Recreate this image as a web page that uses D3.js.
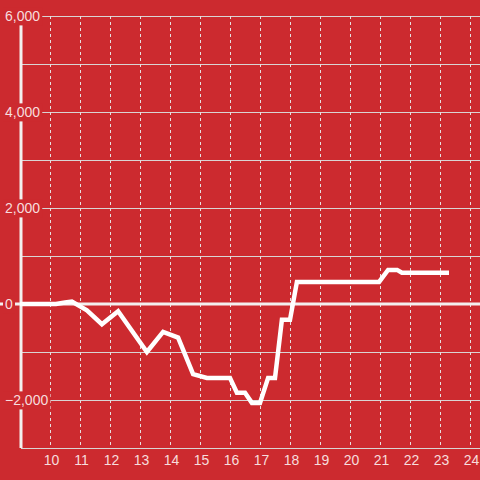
<!DOCTYPE html>
<html><head><meta charset="utf-8">
<script src="https://cdn.jsdelivr.net/npm/d3@7"></script>
<style>
html,body{margin:0;padding:0;background:#CC2A2F;}
svg{display:block;}
text{font-family:"Liberation Sans",Arial,sans-serif;}
</style></head>
<body>
<script>
const hours = [9, 10.2, 10.5, 10.73, 11.23, 11.73, 12.27, 13.23, 13.77, 14.27, 14.77, 15.23, 16.0, 16.23, 16.5, 16.73, 17.0, 17.27, 17.5, 17.73, 18.0, 18.23, 20.97, 21.27, 21.57, 21.73, 23.3];
const values = [0, 0, 30, 50, -130, -420, -150, -1000, -580, -700, -1460, -1540, -1540, -1850, -1850, -2060, -2060, -1540, -1540, -330, -330, 460, 460, 710, 710, 650, 650];
const xTicks = [10, 11, 12, 13, 14, 15, 16, 17, 18, 19, 20, 21, 22, 23, 24];
const yGrid = [-3000, -2000, -1000, 0, 1000, 2000, 3000, 4000, 5000, 6000];
const yLabels = [-2000, 0, 2000, 4000, 6000];

const W = 480, H = 480;
const bg = "#CC2A2F";
const svg = d3.select("body").append("svg").attr("width", W).attr("height", H);
svg.append("rect").attr("width", W).attr("height", H).attr("fill", bg);

const x = d3.scaleLinear().domain([9, 24.3333]).range([20, 480]);
const y = d3.scaleLinear().domain([-3000, 6000]).range([448, 16]);

// horizontal gridlines
svg.append("g").selectAll("line").data(yGrid.filter(v => v !== 0)).join("line")
  .attr("x1", 21).attr("x2", W)
  .attr("y1", d => Math.round(y(d)) + 0.5).attr("y2", d => Math.round(y(d)) + 0.5)
  .attr("stroke", "#d9d4d4").attr("stroke-width", 1.2);

// vertical dashed gridlines
svg.append("g").selectAll("line").data(xTicks).join("line")
  .attr("x1", d => Math.round(x(d)) + 0.5).attr("x2", d => Math.round(x(d)) + 0.5)
  .attr("y1", y(6000)).attr("y2", y(-3000))
  .attr("stroke", "#e6e0e0").attr("stroke-width", 1).attr("stroke-dasharray", "3,3");

// y axis line
svg.append("line").attr("x1", 21).attr("x2", 21).attr("y1", y(6000)).attr("y2", y(-3000))
  .attr("stroke", "#f3efef").attr("stroke-width", 3);

// zero line
svg.append("line").attr("x1", 0).attr("x2", W).attr("y1", y(0)).attr("y2", y(0))
  .attr("stroke", "#f3efef").attr("stroke-width", 3);

// y labels with backgrounds
const yAxis = d3.axisLeft(y).tickValues(yLabels).tickFormat(d3.format(",")).tickSize(0);
const gy = svg.append("g").attr("transform", "translate(5,0)").call(yAxis);
gy.select(".domain").remove();
gy.selectAll("text").attr("text-anchor", "start").attr("x", 0).attr("dy", "0.35em")
  .attr("fill", "#f7dddd").attr("font-size", 14);
gy.selectAll(".tick").each(function() {
  const t = d3.select(this).select("text");
  const b = t.node().getBBox();
  d3.select(this).insert("rect", "text")
    .attr("x", b.x - 2).attr("y", b.y - 1).attr("width", b.width + 4).attr("height", b.height + 2)
    .attr("fill", bg);
});

// x labels
const xAxis = d3.axisBottom(x).tickValues(xTicks).tickFormat(d3.format("d")).tickSize(0);
const gx = svg.append("g").attr("transform", "translate(1,455)").call(xAxis);
gx.select(".domain").remove();
gx.selectAll("text").attr("fill", "#f7dddd").attr("font-size", 14).attr("dy", "0.71em").attr("y", 0);

// data line
const line = d3.line().x((d, i) => x(hours[i])).y(d => y(d));
svg.append("path").datum(values).attr("d", line)
  .attr("fill", "none").attr("stroke", "#ffffff").attr("stroke-width", 4.5)
  .attr("stroke-linejoin", "miter");
</script>
</body></html>
